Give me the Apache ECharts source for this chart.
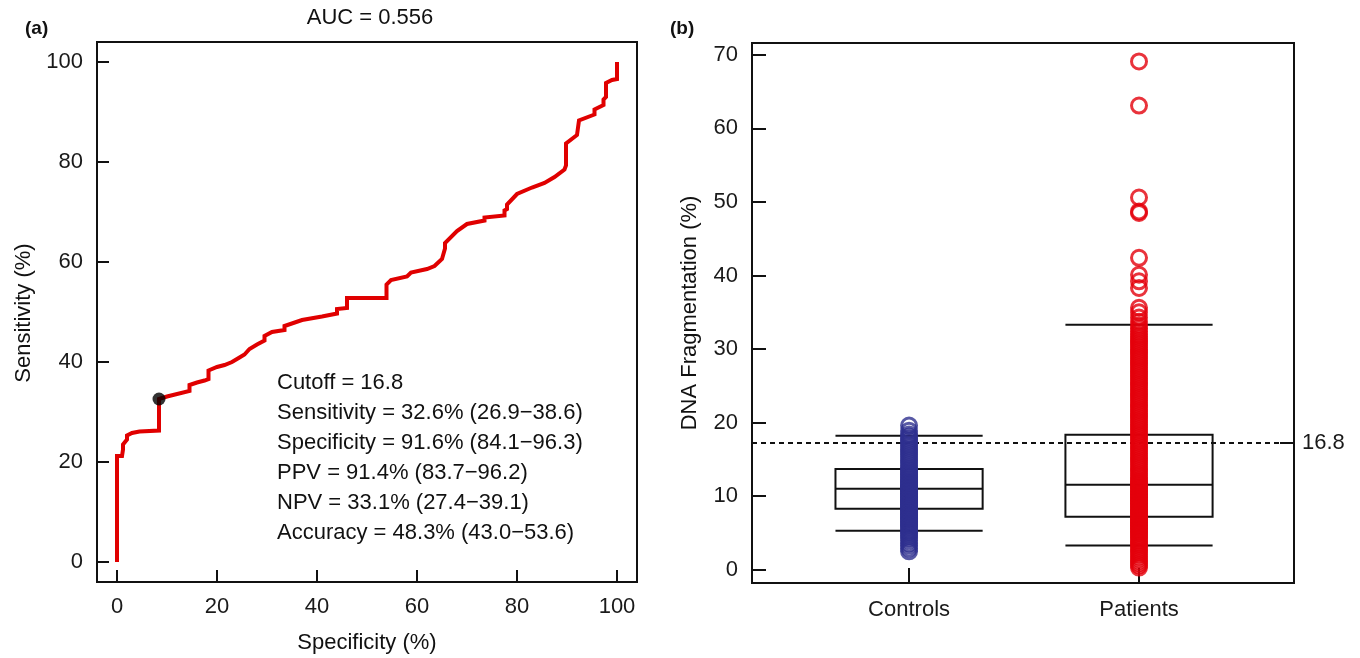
<!DOCTYPE html>
<html><head><meta charset="utf-8">
<script src="https://cdn.jsdelivr.net/npm/echarts@6/dist/echarts.min.js"></script>
<style>html,body{margin:0;padding:0;background:#fff}#c{width:1360px;height:658px}</style>
</head><body><div id="c"></div>
<script>
// ---- Panel (a): ROC curve vertices (x = "Specificity (%)" axis value, y = Sensitivity %) ----
const rocX = [0,0,1,1,1.2,1.2,2,2,3,4.5,8.4,8.4,10,14.5,14.5,16,17.5,18.3,18.3,20,21.5,23,24.5,25.5,26.5,28,29.5,29.5,31,33.5,33.5,37,41,44,44,46,46,53.9,53.9,54.8,58,58.8,62,63.5,65,65.6,65.6,68,70,73.5,73.5,77.5,77.5,78,78,80,83,85.5,87.5,89.5,89.8,89.8,92,92.4,92.4,95.5,95.5,97.3,97.3,97.8,97.8,99,100,100];
const rocY = [0,21.2,21.2,21.6,22.5,23.5,24.5,25.3,25.8,26.1,26.3,32.6,33.1,34.2,35.4,35.9,36.3,36.6,38.3,39,39.4,40,40.9,41.5,42.6,43.5,44.3,45.2,46,46.4,47.2,48.4,49.1,49.7,50.6,50.8,52.8,52.8,55.5,56.4,57.1,57.9,58.6,59.2,60.6,62.7,63.8,66.2,67.6,68.3,68.9,69.3,70.3,70.6,71.5,73.6,74.9,75.8,77,78.5,79.3,83.7,85.4,85.6,88.3,89.5,90.5,91.4,92.5,93,95.8,96.4,96.6,100];
const cutPoint = [8.4, 32.6];
const rocTicks = [0,20,40,60,80,100];
const aucTitle = 'AUC = 0.556';
const statLines = ['Cutoff = 16.8','Sensitivity = 32.6% (26.9\u221238.6)','Specificity = 91.6% (84.1\u221296.3)','PPV = 91.4% (83.7\u221296.2)','NPV = 33.1% (27.4\u221239.1)','Accuracy = 48.3% (43.0\u221253.6)'];

// ---- Panel (b): DNA fragmentation ----
const groups = ['Controls','Patients'];
// [lower whisker, Q1, median, Q3, upper whisker]
const controlsBox = [5.3, 8.3, 11.0, 13.7, 18.2];
const patientsBox = [3.3, 7.2, 11.55, 18.35, 33.3];
const controlsVals = [2.5,2.9,3.3,3.6,4.0,4.3,4.6,4.9,5.1,5.3,5.6,5.8,6.0,6.2,6.4,6.6,6.8,7.0,7.1,7.3,7.5,7.6,7.8,8.0,8.1,8.3,8.4,8.6,8.8,8.9,9.1,9.2,9.4,9.5,9.7,9.8,10.0,10.1,10.3,10.4,10.6,10.7,10.9,11.0,11.1,11.3,11.4,11.6,11.8,11.9,12.1,12.3,12.5,12.7,12.9,13.1,13.3,13.5,13.7,13.9,14.2,14.5,14.8,15.1,15.4,15.7,16.0,16.3,16.6,16.9,17.2,17.5,17.8,18.1,18.4,18.9,19.6];
const patientsVals = [0.3,0.6,0.9,1.2,1.5,1.8,2.1,2.4,2.7,3.0,3.3,3.5,3.8,4.0,4.3,4.5,4.8,5.0,5.2,5.4,5.6,5.8,6.0,6.2,6.4,6.6,6.8,7.0,7.2,7.4,7.6,7.8,8.0,8.2,8.4,8.6,8.8,9.0,9.2,9.4,9.6,9.8,10.0,10.2,10.4,10.6,10.8,11.0,11.2,11.4,11.6,11.8,12.0,12.2,12.5,12.8,13.1,13.4,13.7,14.0,14.3,14.6,14.9,15.2,15.5,15.8,16.1,16.4,16.7,17.0,17.3,17.6,17.9,18.2,18.5,18.8,19.1,19.4,19.7,20.0,20.3,20.6,20.9,21.2,21.5,21.8,22.1,22.4,22.7,23.0,23.3,23.6,23.9,24.2,24.5,24.8,25.1,25.4,25.7,26.0,26.3,26.6,26.9,27.2,27.5,27.8,28.1,28.4,28.7,29.0,29.3,29.6,29.9,30.2,30.5,30.8,31.1,31.4,31.7,32.0,32.4,32.8,33.2,33.7,34.3,35.0,35.6,38.3,39.2,40.1,42.4,48.5,48.7,50.6,63.1,69.1];
const fragTicks = [0,10,20,30,40,50,60,70];
const cutoffLineY = 17.2;
const cutoffLabel = '16.8';

const FONT = 'Liberation Sans, Arial, sans-serif';
const FS = 22;
const chart = echarts.init(document.getElementById('c'));

const rocData = rocX.map((x,i)=>[x, rocY[i]]);
const boxData = [[1].concat(controlsBox), [2].concat(patientsBox)];

function renderBox(params, api){
  const x = api.value(0);
  const hw = 0.32;
  const pL = (v)=>api.coord([x-hw, v]);
  const pR = (v)=>api.coord([x+hw, v]);
  const q1 = pL(api.value(2)), q3 = pL(api.value(4));
  const rq1 = pR(api.value(2));
  const st = {stroke:'#111', lineWidth:2, fill:null};
  const line = (a,b)=>({type:'line', shape:{x1:a[0],y1:a[1],x2:b[0],y2:b[1]}, style:st});
  return {type:'group', children:[
    {type:'rect', shape:{x:q3[0], y:q3[1], width:rq1[0]-q1[0], height:q1[1]-q3[1]}, style:{stroke:'#111', lineWidth:2, fill:'none'}},
    line(pL(api.value(3)), pR(api.value(3))),
    line(pL(api.value(1)), pR(api.value(1))),
    line(pL(api.value(5)), pR(api.value(5)))
  ]};
}

const axisTxt = {fontSize:FS, color:'#1a1a1a', fontFamily:FONT};
const noLine = {show:false, onZero:false};
const graphics = [
  {type:'text', left:25, top:19, style:{text:'(a)', font:'bold 19px '+FONT, fill:'#111'}},
  {type:'text', left:670, top:19, style:{text:'(b)', font:'bold 19px '+FONT, fill:'#111'}},
  {type:'text', x:370, y:18, style:{text:aucTitle, font:FS+'px '+FONT, fill:'#111', textAlign:'center', textVerticalAlign:'middle'}},
  {type:'text', x:367, y:643, style:{text:'Specificity (%)', font:FS+'px '+FONT, fill:'#111', textAlign:'center', textVerticalAlign:'middle'}},
  {type:'text', x:24, y:313, rotation:Math.PI/2, style:{text:'Sensitivity (%)', font:FS+'px '+FONT, fill:'#111', textAlign:'center', textVerticalAlign:'middle'}},
  {type:'text', x:690, y:313, rotation:Math.PI/2, style:{text:'DNA Fragmentation (%)', font:FS+'px '+FONT, fill:'#111', textAlign:'center', textVerticalAlign:'middle'}}
];
statLines.forEach((t,i)=>graphics.push({type:'text', x:277, y:383+i*30, style:{text:t, font:FS+'px '+FONT, fill:'#111', textAlign:'left', textVerticalAlign:'middle'}}));

chart.setOption({
  animation:false,
  backgroundColor:'#fff',
  grid:[
    {left:97, top:42, width:540, height:540, show:true, borderColor:'#111', borderWidth:2, backgroundColor:'transparent'},
    {left:752, top:43, width:542, height:540, show:true, borderColor:'#111', borderWidth:2, backgroundColor:'transparent'}
  ],
  xAxis:[
    {type:'value', gridIndex:0, min:-4, max:104, axisLine:noLine, splitLine:{show:false},
     axisTick:{inside:true, length:12, lineStyle:{color:'#111', width:2}, customValues:rocTicks},
     axisLabel:Object.assign({customValues:rocTicks, margin:14}, axisTxt)},
    {type:'value', gridIndex:1, min:0.317, max:2.674, axisLine:noLine, splitLine:{show:false},
     axisTick:{inside:true, length:15, lineStyle:{color:'#111', width:2}, customValues:[1,2]},
     axisLabel:Object.assign({customValues:[1,2], margin:16, formatter:(v)=>groups[Math.round(v)-1]}, axisTxt)}
  ],
  yAxis:[
    {type:'value', gridIndex:0, min:-4, max:104, axisLine:noLine, splitLine:{show:false},
     axisTick:{inside:true, length:12, lineStyle:{color:'#111', width:2}, customValues:rocTicks},
     axisLabel:Object.assign({customValues:rocTicks, margin:14}, axisTxt)},
    {type:'value', gridIndex:1, min:-1.8, max:71.6, axisLine:noLine, splitLine:{show:false},
     axisTick:{inside:true, length:14, lineStyle:{color:'#111', width:2}, customValues:fragTicks},
     axisLabel:Object.assign({customValues:fragTicks, margin:14}, axisTxt)},
    {type:'value', gridIndex:1, position:'right', min:-1.8, max:71.6, axisLine:noLine, splitLine:{show:false},
     axisTick:{inside:true, length:14, lineStyle:{color:'#111', width:2}, customValues:[cutoffLineY]},
     axisLabel:Object.assign({customValues:[cutoffLineY], margin:8, formatter:()=>cutoffLabel}, axisTxt)}
  ],
  graphic:graphics,
  series:[
    {type:'line', xAxisIndex:0, yAxisIndex:0, data:rocData, showSymbol:false, symbol:'none',
     lineStyle:{color:'#E00000', width:4, join:'miter'}, z:3},
    {type:'scatter', xAxisIndex:0, yAxisIndex:0, data:[cutPoint], symbol:'circle', symbolSize:13,
     itemStyle:{color:'#000'}, z:4},
    {type:'custom', xAxisIndex:1, yAxisIndex:1, data:boxData, renderItem:renderBox,
     encode:{x:0, y:[1,2,3,4,5]}, z:2,
     markLine:{silent:true, symbol:'none', label:{show:false},
       lineStyle:{color:'#111', type:[5,4], width:2}, data:[{yAxis:cutoffLineY}]}},
    {type:'scatter', xAxisIndex:1, yAxisIndex:1, data:controlsVals.map(v=>[1,v]), symbol:'circle', symbolSize:15,
     itemStyle:{color:'rgba(0,0,0,0)', borderColor:'#2E2F8F', borderWidth:3}, z:5},
    {type:'scatter', xAxisIndex:1, yAxisIndex:1, data:patientsVals.map(v=>[2,v]), symbol:'circle', symbolSize:15,
     itemStyle:{color:'rgba(0,0,0,0)', borderColor:'#E3000B', borderWidth:3}, z:5}
  ]
});
</script></body></html>
